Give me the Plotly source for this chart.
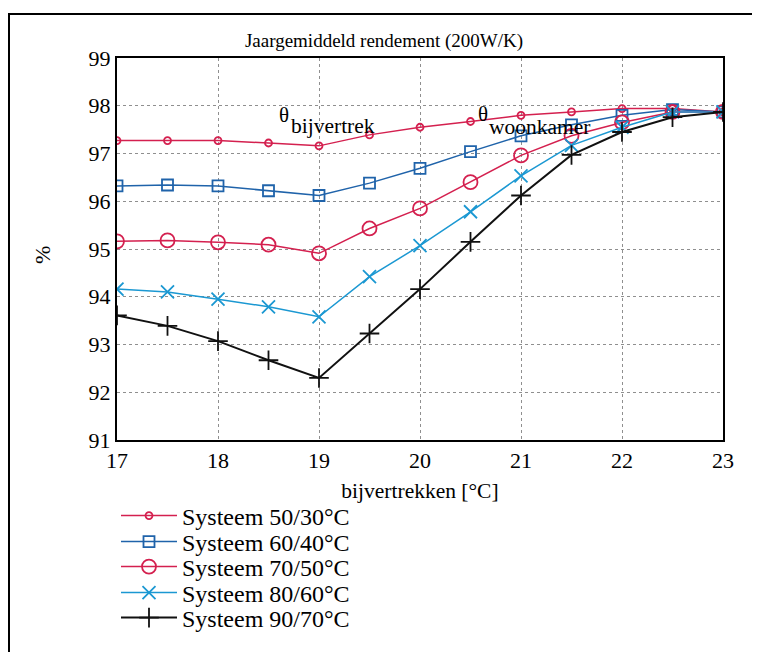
import plotly.graph_objects as go

x_temp = [17, 17.5, 18, 18.5, 19, 19.5, 20, 20.5, 21, 21.5, 22, 22.5, 23]
s_50_30 = [97.27, 97.27, 97.27, 97.22, 97.16, 97.39, 97.55, 97.67, 97.80, 97.87, 97.94, 97.94, 97.87]
s_60_40 = [96.32, 96.34, 96.32, 96.22, 96.12, 96.38, 96.69, 97.04, 97.37, 97.60, 97.80, 97.92, 97.87]
s_70_50 = [95.16, 95.18, 95.14, 95.09, 94.91, 95.43, 95.85, 96.40, 96.96, 97.37, 97.65, 97.87, 97.87]
s_80_60 = [94.16, 94.10, 93.95, 93.79, 93.58, 94.42, 95.07, 95.78, 96.53, 97.17, 97.55, 97.87, 97.87]
s_90_70 = [93.61, 93.39, 93.07, 92.67, 92.30, 93.23, 94.16, 95.15, 96.12, 96.97, 97.45, 97.76, 97.87]

names = ["Systeem 50/30°C", "Systeem 60/40°C", "Systeem 70/50°C", "Systeem 80/60°C", "Systeem 90/70°C"]
x_ticks = [17, 18, 19, 20, 21, 22, 23]
y_ticks = [91, 92, 93, 94, 95, 96, 97, 98, 99]

FONT = "Liberation Serif"
RED = "#d4204f"
BLUE = "#1f63aa"
CYAN = "#1b98d2"
BLACK = "#111111"

# figure geometry (div pixels; page body has an 8px margin)
W, H = 752, 644
L, R, T, B = 109, 37, 50, 212
PW, PH = W - L - R, H - T - B  # 606 x 382


def px_x(px):
    return (px - L) / PW


def px_y(py):
    return (H - B - py) / PH


styles = [
    dict(color=RED, symbol="circle-open", size=7, lw=1.5),
    dict(color=BLUE, symbol="square-open", size=11, lw=1.5),
    dict(color=RED, symbol="circle-open", size=14, lw=1.5),
    dict(color=CYAN, symbol="x-thin-open", size=13, lw=1.5),
    dict(color=BLACK, symbol="cross-thin-open", size=14, lw=2),
]
series = [s_50_30, s_60_40, s_70_50, s_80_60, s_90_70]
legend_ids = ["legend", "legend2", "legend3", "legend4", "legend5"]
legend_centers = [508, 534, 559, 585, 610]

fig = go.Figure()
for name, ys, st, lid in zip(names, series, styles, legend_ids):
    fig.add_trace(go.Scatter(
        x=x_temp, y=ys, name=name, mode="lines+markers", legend=lid,
        line=dict(color=st["color"], width=st["lw"]),
        marker=dict(symbol=st["symbol"], size=st["size"], color=st["color"],
                    line=dict(color=st["color"], width=1.8)),
    ))

axis_common = dict(
    showgrid=True, gridcolor="#8f8f8f", griddash="dot", gridwidth=1,
    showline=True, linecolor="black", linewidth=2, mirror=True,
    zeroline=False, ticks="", tickfont=dict(family=FONT, size=22, color="black"),
)

layout_legends = {}
for lid, yc in zip(legend_ids, legend_centers):
    layout_legends[lid] = dict(
        x=px_x(108), y=px_y(yc), xanchor="left", yanchor="middle",
        font=dict(family=FONT, size=24, color="black"),
        bgcolor="rgba(0,0,0,0)", itemwidth=56, borderwidth=0,
    )

fig.update_layout(
    width=W, height=H,
    margin=dict(l=L, r=R, t=T, b=B, autoexpand=False),
    paper_bgcolor="white", plot_bgcolor="white",
    font=dict(family=FONT, color="black"),
    title=dict(text="Jaargemiddeld rendement (200W/K)", x=0.5, xanchor="center",
               y=1 - 32 / H, yanchor="middle",
               font=dict(family=FONT, size=19, color="black")),
    xaxis=dict(range=[17, 23], tickvals=x_ticks, ticktext=[str(v) for v in x_ticks],
               title=dict(text="bijvertrekken [°C]", font=dict(family=FONT, size=21.5), standoff=11),
               **axis_common),
    yaxis=dict(range=[91, 99], tickvals=y_ticks, ticktext=[str(v) for v in y_ticks],
               **axis_common),
    showlegend=True,
    **layout_legends,
)

# y-axis label
fig.add_annotation(text="%", xref="paper", yref="paper", x=px_x(34), y=px_y(247),
                   showarrow=False, textangle=-90, font=dict(family=FONT, size=22, color="black"),
                   xanchor="center", yanchor="middle")

# theta annotations
fig.add_annotation(text="θ", x=18.58, y=97.8, xanchor="left", yanchor="middle", showarrow=False,
                   font=dict(family=FONT, size=21, color="black"))
fig.add_annotation(text="bijvertrek", x=18.7, y=97.57, xanchor="left", yanchor="middle", showarrow=False,
                   font=dict(family=FONT, size=21.5, color="black"))
fig.add_annotation(text="θ", x=20.55, y=97.82, xanchor="left", yanchor="middle", showarrow=False,
                   font=dict(family=FONT, size=21, color="black"))
fig.add_annotation(text="woonkamer", x=20.66, y=97.55, xanchor="left", yanchor="middle", showarrow=False,
                   font=dict(family=FONT, size=21.5, color="black"))

# outer frame (right and bottom edges run off the page)
fig.add_shape(type="rect", xref="paper", yref="paper",
              x0=px_x(1), x1=px_x(780),
              y0=px_y(680), y1=px_y(6),
              line=dict(color="black", width=2), layer="below")

fig.write_html("out.html")
